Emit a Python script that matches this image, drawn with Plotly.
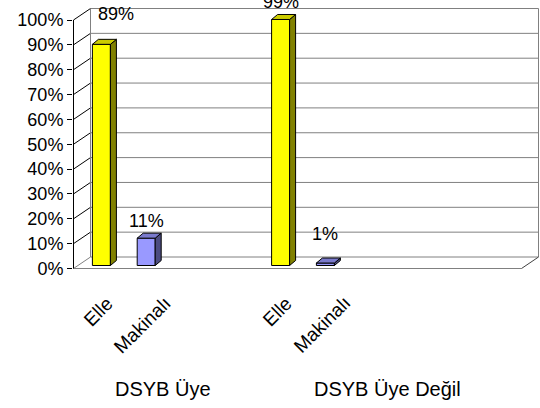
import plotly.graph_objects as go

# ---------------- data ----------------
groups = ["DSYB Üye", "DSYB Üye Değil"]
group_slots = [4, 6]                 # category slots per group (incl. blank ones)
methods = ["Elle", "Makinalı"]
elle_pct = [89, 99]
makinali_pct = [11, 1]
y_ticks = [0, 10, 20, 30, 40, 50, 60, 70, 80, 90, 100]
y_tick_labels = [f"{t}%" for t in y_ticks]

# ---------------- style ----------------
FONT = "Arial, 'Liberation Sans', sans-serif"
face_colors = {
    "Elle": ("#FFFF00", "#CCCC00", "#808000"),      # front, top, side
    "Makinalı": ("#9999FF", "#7A7ACC", "#4C4C80"),
}
label_nudge = {(0, "Elle"): (15, 13), (1, "Makinalı"): (0, 12)}

# pixel geometry of the pseudo-3D frame
ML, MR, MT, MB = 73, 1, 8, 138
W, H = 540 - ML - MR, 408 - MT - MB
n_slots = sum(group_slots)
SX = 44.8          # px per category
SY = 248.5         # px per 100%
x0 = -0.5 - 0.5 / SX
x1 = x0 + W / SX
y0 = -1.5 / SY
y1 = y0 + H / SY
DX, DY = 17 / SX, 11.5 / SY        # wall depth
BX, BY = 5.5 / SX, 3 / SY          # bar placement inside depth
BW = 18 / SX                        # bar width
BDX, BDY = 6 / SX, 5 / SY          # bar depth

starts = [sum(group_slots[:i]) for i in range(len(groups))]
series = {"Elle": elle_pct, "Makinalı": makinali_pct}

fig = go.Figure()
shapes = []
line_gray = dict(color="#808080", width=1)
line_black = dict(color="#000000", width=1)
xl, xr = -0.5, n_slots - 0.5

def seg(xa, ya, xb, yb, line):
    shapes.append(dict(type="line", xref="x", yref="y", x0=xa, y0=ya, x1=xb, y1=yb,
                       line=line, layer="below"))

# back wall gridlines + left wall diagonals
for t in y_ticks:
    v = t / 100
    seg(xl + DX, v + DY, xr + DX, v + DY, line_gray)
    seg(xl, v, xl + DX, v + DY, line_gray if t == 0 else line_black)
seg(xl + DX, DY, xl + DX, 1 + DY, line_gray)
seg(xr + DX, DY, xr + DX, 1 + DY, line_gray)
# floor
seg(xl, 0, xr, 0, line_gray)
seg(xr, 0, xr + DX, DY, dict(color="#404040", width=1))
# front value axis
seg(xl, 0, xl, 1, line_black)

annotations = []
for m_i, m in enumerate(methods):
    front, top, side = face_colors[m]
    xs = [starts[g] + m_i for g in range(len(groups))]
    vals = [p / 100 for p in series[m]]
    fig.add_trace(go.Bar(
        x=[x + BX for x in xs], y=vals, base=BY, width=BW,
        marker=dict(color=front, line=dict(color="black", width=1)),
        name=m, showlegend=False, hoverinfo="skip"))
    for g, (x, v) in enumerate(zip(xs, vals)):
        xa, xb = x + BX - BW / 2, x + BX + BW / 2
        yb, yt = BY, BY + v
        fig.add_trace(go.Scatter(
            x=[xb, xb + BDX, xb + BDX, xb, xb], y=[yb, yb + BDY, yt + BDY, yt, yb],
            fill="toself", fillcolor=side, mode="lines", line=dict(color="black", width=1),
            showlegend=False, hoverinfo="skip"))
        fig.add_trace(go.Scatter(
            x=[xa, xa + BDX, xb + BDX, xb, xa], y=[yt, yt + BDY, yt + BDY, yt, yt],
            fill="toself", fillcolor=top, mode="lines", line=dict(color="black", width=1),
            showlegend=False, hoverinfo="skip"))
        nx, ny = label_nudge.get((g, m), (0, 0))
        annotations.append(dict(
            x=(xa + xb) / 2, y=yt + BDY, xref="x", yref="y", text=f"{series[m][g]}%",
            showarrow=False, yanchor="bottom", xanchor="center", xshift=nx, yshift=ny,
            font=dict(family=FONT, size=18, color="black")))
        # category label (rotated)
        annotations.append(dict(
            x=x + 0.05, y=0, xref="x", yref="y", text=m, textangle=-45,
            showarrow=False, xanchor="center", yanchor="top", yshift=-21,
            font=dict(family=FONT, size=19, color="black")))

for g, name in enumerate(groups):
    center = starts[g] + (group_slots[g] - 1) / 2
    annotations.append(dict(
        x=center, y=(270 - 389) / H, xref="x", yref="paper", text=name,
        showarrow=False, xanchor="center", yanchor="middle",
        font=dict(family=FONT, size=20, color="black")))

fig.update_layout(
    width=540, height=408,
    margin=dict(l=ML, r=MR, t=MT, b=MB, pad=0),
    paper_bgcolor="white", plot_bgcolor="white",
    barmode="overlay",
    shapes=shapes, annotations=annotations,
    xaxis=dict(range=[x0, x1], visible=False, fixedrange=True),
    yaxis=dict(range=[y0, y1], tickvals=[t / 100 for t in y_ticks], ticktext=y_tick_labels,
               ticks="outside", ticklen=5, tickcolor="black", tickwidth=1,
               showgrid=False, zeroline=False, showline=False,
               tickfont=dict(family=FONT, size=18, color="black"), fixedrange=True),
    showlegend=False,
)
fig.write_html("out.html", config={"displayModeBar": False})
